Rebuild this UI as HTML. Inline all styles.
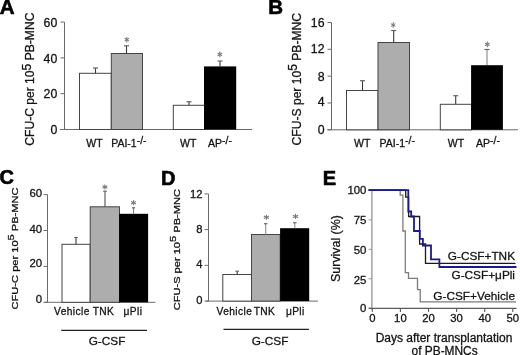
<!DOCTYPE html>
<html><head><meta charset="utf-8"><style>
html,body{margin:0;padding:0;background:#fff;overflow:hidden;width:520px;height:355px;}
svg{display:block;font-family:"Liberation Sans", sans-serif;will-change:transform;filter:blur(0.3px);}
text{stroke:#1a1a1a;stroke-width:0.3px;}
text.b{stroke:#000;stroke-width:0.6px;}
</style></head><body>
<svg width="520" height="355" viewBox="0 0 520 355" font-family='"Liberation Sans", sans-serif'>
<rect width="520" height="355" fill="#fff"/>
<text class="b" x="-0.3" y="14.2" font-size="20.5" text-anchor="start" font-weight="bold" fill="#000" >A</text>
<line x1="64.5" y1="22.1" x2="64.5" y2="129.5" stroke="#6a6a6a" stroke-width="1"/>
<line x1="60.5" y1="22.1" x2="64.5" y2="22.1" stroke="#6a6a6a" stroke-width="1"/>
<text x="57.3" y="26.9" font-size="12.3" text-anchor="end" font-weight="normal" fill="#111" >60</text>
<line x1="60.5" y1="57.9" x2="64.5" y2="57.9" stroke="#6a6a6a" stroke-width="1"/>
<text x="57.3" y="62.7" font-size="12.3" text-anchor="end" font-weight="normal" fill="#111" >40</text>
<line x1="60.5" y1="93.7" x2="64.5" y2="93.7" stroke="#6a6a6a" stroke-width="1"/>
<text x="57.3" y="97.5" font-size="12.3" text-anchor="end" font-weight="normal" fill="#111" >20</text>
<line x1="60.5" y1="129.5" x2="64.5" y2="129.5" stroke="#6a6a6a" stroke-width="1"/>
<text x="57.3" y="134.0" font-size="12.3" text-anchor="end" font-weight="normal" fill="#111" >0</text>
<line x1="60" y1="129.5" x2="252" y2="129.5" stroke="#6a6a6a" stroke-width="1"/>
<rect x="79.5" y="73.3" width="31.799999999999997" height="56.2" fill="#fff" stroke="#444" stroke-width="1"/>
<rect x="111.3" y="53.5" width="31.200000000000003" height="76.0" fill="#adadad" stroke="#444" stroke-width="1"/>
<rect x="173.3" y="105.3" width="31.19999999999999" height="24.200000000000003" fill="#fff" stroke="#444" stroke-width="1"/>
<rect x="204" y="66.4" width="32.19999999999999" height="63.099999999999994" fill="#000" stroke="none" stroke-width="1"/>
<line x1="95.5" y1="73.3" x2="95.5" y2="68" stroke="#3a3a3a" stroke-width="1.1"/>
<line x1="93.0" y1="68" x2="98.0" y2="68" stroke="#666" stroke-width="1.2"/>
<line x1="126.5" y1="53.5" x2="126.5" y2="45.8" stroke="#3a3a3a" stroke-width="1.1"/>
<line x1="124.0" y1="45.8" x2="129.0" y2="45.8" stroke="#666" stroke-width="1.2"/>
<line x1="189" y1="105.3" x2="189" y2="101.7" stroke="#3a3a3a" stroke-width="1.1"/>
<line x1="186.5" y1="101.7" x2="191.5" y2="101.7" stroke="#666" stroke-width="1.2"/>
<line x1="220" y1="66.5" x2="220" y2="61" stroke="#3a3a3a" stroke-width="1.1"/>
<line x1="217.5" y1="61" x2="222.5" y2="61" stroke="#666" stroke-width="1.2"/>
<line x1="126.8" y1="36.9" x2="126.8" y2="42.5" stroke="#7a7a7a" stroke-width="1.1"/>
<line x1="124.6" y1="38.3" x2="129.0" y2="41.1" stroke="#7a7a7a" stroke-width="1.1"/>
<line x1="129.0" y1="38.3" x2="124.6" y2="41.1" stroke="#7a7a7a" stroke-width="1.1"/>
<line x1="219.8" y1="51.6" x2="219.8" y2="57.2" stroke="#7a7a7a" stroke-width="1.1"/>
<line x1="217.6" y1="53.0" x2="222.0" y2="55.8" stroke="#7a7a7a" stroke-width="1.1"/>
<line x1="222.0" y1="53.0" x2="217.6" y2="55.8" stroke="#7a7a7a" stroke-width="1.1"/>
<text x="86.3" y="146.5" font-size="10.5" text-anchor="start" font-weight="normal" fill="#111" >WT</text>
<text x="111.2" y="146.5" font-size="10.5" text-anchor="start" font-weight="normal" fill="#111" >PAI-1<tspan dy="-3">-/-</tspan></text>
<text x="180" y="146.5" font-size="10.5" text-anchor="start" font-weight="normal" fill="#111" >WT</text>
<text x="208.1" y="146.5" font-size="10.5" text-anchor="start" font-weight="normal" fill="#111" >AP<tspan dy="-3">-/-</tspan></text>
<g transform="translate(34.2,145.7) rotate(-90) scale(1.0,1)"><text x="0" y="0" font-size="12.1" fill="#111" >CFU-C per 10<tspan dy="-3.60">5</tspan><tspan dy="3.60"> PB-MNC</tspan></text></g>
<text class="b" x="268.3" y="14.3" font-size="20.5" text-anchor="start" font-weight="bold" fill="#000" >B</text>
<line x1="331.5" y1="22.48" x2="331.5" y2="129.8" stroke="#6a6a6a" stroke-width="1"/>
<line x1="327.5" y1="22.48" x2="331.5" y2="22.48" stroke="#6a6a6a" stroke-width="1"/>
<text x="324.5" y="27.28" font-size="12.3" text-anchor="end" font-weight="normal" fill="#111" >16</text>
<line x1="327.5" y1="49.31" x2="331.5" y2="49.31" stroke="#6a6a6a" stroke-width="1"/>
<text x="324.5" y="52.71" font-size="12.3" text-anchor="end" font-weight="normal" fill="#111" >12</text>
<line x1="327.5" y1="76.14" x2="331.5" y2="76.14" stroke="#6a6a6a" stroke-width="1"/>
<text x="324.5" y="81.34" font-size="12.3" text-anchor="end" font-weight="normal" fill="#111" >8</text>
<line x1="327.5" y1="102.97" x2="331.5" y2="102.97" stroke="#6a6a6a" stroke-width="1"/>
<text x="324.5" y="106.47" font-size="12.3" text-anchor="end" font-weight="normal" fill="#111" >4</text>
<line x1="327.5" y1="129.8" x2="331.5" y2="129.8" stroke="#6a6a6a" stroke-width="1"/>
<text x="324.5" y="133.6" font-size="12.3" text-anchor="end" font-weight="normal" fill="#111" >0</text>
<line x1="327.4" y1="129.8" x2="518" y2="129.8" stroke="#6a6a6a" stroke-width="1"/>
<rect x="346.5" y="90.5" width="31.5" height="39.30000000000001" fill="#fff" stroke="#444" stroke-width="1"/>
<rect x="378" y="42.5" width="31.5" height="87.30000000000001" fill="#adadad" stroke="#444" stroke-width="1"/>
<rect x="440.3" y="104.3" width="31.19999999999999" height="25.500000000000014" fill="#fff" stroke="#444" stroke-width="1"/>
<rect x="471.1" y="65.2" width="31.799999999999955" height="64.60000000000001" fill="#000" stroke="none" stroke-width="1"/>
<line x1="362.5" y1="90.5" x2="362.5" y2="80.7" stroke="#3a3a3a" stroke-width="1.1"/>
<line x1="360.0" y1="80.7" x2="365.0" y2="80.7" stroke="#666" stroke-width="1.2"/>
<line x1="393.7" y1="42.5" x2="393.7" y2="30.5" stroke="#3a3a3a" stroke-width="1.1"/>
<line x1="391.2" y1="30.5" x2="396.2" y2="30.5" stroke="#666" stroke-width="1.2"/>
<line x1="455.7" y1="104.3" x2="455.7" y2="95.7" stroke="#3a3a3a" stroke-width="1.1"/>
<line x1="453.2" y1="95.7" x2="458.2" y2="95.7" stroke="#666" stroke-width="1.2"/>
<line x1="487" y1="65" x2="487" y2="49.5" stroke="#888" stroke-width="1.1"/>
<line x1="484.5" y1="49.5" x2="489.5" y2="49.5" stroke="#666" stroke-width="1.2"/>
<line x1="393.2" y1="22.2" x2="393.2" y2="27.8" stroke="#7a7a7a" stroke-width="1.1"/>
<line x1="391.0" y1="23.6" x2="395.4" y2="26.4" stroke="#7a7a7a" stroke-width="1.1"/>
<line x1="395.4" y1="23.6" x2="391.0" y2="26.4" stroke="#7a7a7a" stroke-width="1.1"/>
<line x1="487.3" y1="41.6" x2="487.3" y2="47.2" stroke="#7a7a7a" stroke-width="1.1"/>
<line x1="485.1" y1="43.0" x2="489.5" y2="45.8" stroke="#7a7a7a" stroke-width="1.1"/>
<line x1="489.5" y1="43.0" x2="485.1" y2="45.8" stroke="#7a7a7a" stroke-width="1.1"/>
<text x="354" y="146.8" font-size="10.5" text-anchor="start" font-weight="normal" fill="#111" >WT</text>
<text x="379.5" y="146.8" font-size="10.5" text-anchor="start" font-weight="normal" fill="#111" >PAI-1<tspan dy="-3">-/-</tspan></text>
<text x="447.8" y="146.8" font-size="10.5" text-anchor="start" font-weight="normal" fill="#111" >WT</text>
<text x="476" y="146.8" font-size="10.5" text-anchor="start" font-weight="normal" fill="#111" >AP<tspan dy="-3">-/-</tspan></text>
<g transform="translate(300.6,145.4) rotate(-90) scale(1.0,1)"><text x="0" y="0" font-size="12.1" fill="#111" >CFU-S per 10<tspan dy="-3.60">5</tspan><tspan dy="3.60"> PB-MNC</tspan></text></g>
<text class="b" x="-0.6" y="184.3" font-size="20" text-anchor="start" font-weight="bold" fill="#000" >C</text>
<line x1="47.5" y1="194.6" x2="47.5" y2="302.3" stroke="#6a6a6a" stroke-width="1"/>
<line x1="43.5" y1="194.6" x2="47.5" y2="194.6" stroke="#6a6a6a" stroke-width="1"/>
<text x="42.2" y="197.05" font-size="11.4" text-anchor="end" font-weight="normal" fill="#111" >60</text>
<line x1="43.5" y1="230.5" x2="47.5" y2="230.5" stroke="#6a6a6a" stroke-width="1"/>
<text x="42.2" y="232.95" font-size="11.4" text-anchor="end" font-weight="normal" fill="#111" >40</text>
<line x1="43.5" y1="266.4" x2="47.5" y2="266.4" stroke="#6a6a6a" stroke-width="1"/>
<text x="42.2" y="267.25" font-size="11.4" text-anchor="end" font-weight="normal" fill="#111" >20</text>
<line x1="43.5" y1="302.3" x2="47.5" y2="302.3" stroke="#6a6a6a" stroke-width="1"/>
<text x="42.2" y="303.45" font-size="11.4" text-anchor="end" font-weight="normal" fill="#111" >0</text>
<line x1="45" y1="302.3" x2="155.3" y2="302.3" stroke="#6a6a6a" stroke-width="1"/>
<rect x="62" y="244.3" width="28.200000000000003" height="58.0" fill="#fff" stroke="#444" stroke-width="1"/>
<rect x="90.2" y="206.8" width="29.299999999999997" height="95.5" fill="#adadad" stroke="#444" stroke-width="1"/>
<rect x="119.1" y="213.8" width="29.0" height="88.5" fill="#000" stroke="none" stroke-width="1"/>
<line x1="76" y1="244.3" x2="76" y2="237.5" stroke="#3a3a3a" stroke-width="1.1"/>
<line x1="74.2" y1="237.5" x2="77.8" y2="237.5" stroke="#666" stroke-width="1.2"/>
<line x1="105" y1="206.8" x2="105" y2="191.2" stroke="#505050" stroke-width="1.1"/>
<line x1="103.2" y1="191.2" x2="106.8" y2="191.2" stroke="#666" stroke-width="1.2"/>
<line x1="133.5" y1="214" x2="133.5" y2="207.8" stroke="#808080" stroke-width="1.1"/>
<line x1="131.9" y1="207.8" x2="135.1" y2="207.8" stroke="#666" stroke-width="1.2"/>
<line x1="104.9" y1="184.4" x2="104.9" y2="189.4" stroke="#7a7a7a" stroke-width="1.1"/>
<line x1="102.5" y1="185.65" x2="107.3" y2="188.15" stroke="#7a7a7a" stroke-width="1.1"/>
<line x1="107.3" y1="185.65" x2="102.5" y2="188.15" stroke="#7a7a7a" stroke-width="1.1"/>
<line x1="133.5" y1="200.2" x2="133.5" y2="205.2" stroke="#7a7a7a" stroke-width="1.1"/>
<line x1="131.1" y1="201.45" x2="135.9" y2="203.95" stroke="#7a7a7a" stroke-width="1.1"/>
<line x1="135.9" y1="201.45" x2="131.1" y2="203.95" stroke="#7a7a7a" stroke-width="1.1"/>
<text x="54.1" y="315.3" font-size="10.2" text-anchor="start" font-weight="normal" fill="#111" letter-spacing="0.4">Vehicle</text>
<text x="92.7" y="315.3" font-size="10.2" text-anchor="start" font-weight="normal" fill="#111" letter-spacing="0.4">TNK</text>
<text x="123.6" y="315.3" font-size="10.2" text-anchor="start" font-weight="normal" fill="#111" letter-spacing="0.4">μPli</text>
<line x1="61.2" y1="330.4" x2="147" y2="330.4" stroke="#222" stroke-width="1.2"/>
<text x="107" y="345.2" font-size="11.8" text-anchor="middle" font-weight="normal" fill="#111" >G-CSF</text>
<g transform="translate(18.2,309.4) rotate(-90) scale(1.26,1)"><text x="0" y="0" font-size="8.8" fill="#111" >CFU-C per 10<tspan dy="-4.20">5</tspan><tspan dy="4.20"> PB-MNC</tspan></text></g>
<text class="b" x="161.1" y="184.5" font-size="20" text-anchor="start" font-weight="bold" fill="#000" >D</text>
<line x1="208.5" y1="193.91" x2="208.5" y2="301.1" stroke="#6a6a6a" stroke-width="1"/>
<line x1="204.5" y1="193.91" x2="208.5" y2="193.91" stroke="#6a6a6a" stroke-width="1"/>
<text x="202.4" y="198.08" font-size="11.2" text-anchor="end" font-weight="normal" fill="#111" >12</text>
<line x1="204.5" y1="229.64" x2="208.5" y2="229.64" stroke="#6a6a6a" stroke-width="1"/>
<text x="202.4" y="233.01" font-size="11.2" text-anchor="end" font-weight="normal" fill="#111" >8</text>
<line x1="204.5" y1="265.37" x2="208.5" y2="265.37" stroke="#6a6a6a" stroke-width="1"/>
<text x="202.4" y="267.74" font-size="11.2" text-anchor="end" font-weight="normal" fill="#111" >4</text>
<line x1="204.5" y1="301.1" x2="208.5" y2="301.1" stroke="#6a6a6a" stroke-width="1"/>
<text x="202.4" y="304.17" font-size="11.2" text-anchor="end" font-weight="normal" fill="#111" >0</text>
<line x1="206" y1="301.1" x2="318" y2="301.1" stroke="#6a6a6a" stroke-width="1"/>
<rect x="222.8" y="274.5" width="28.69999999999999" height="26.600000000000023" fill="#fff" stroke="#444" stroke-width="1"/>
<rect x="251.5" y="234.5" width="28.69999999999999" height="66.60000000000002" fill="#adadad" stroke="#444" stroke-width="1"/>
<rect x="280.1" y="228.2" width="29.099999999999966" height="72.90000000000003" fill="#000" stroke="none" stroke-width="1"/>
<line x1="237.2" y1="274.5" x2="237.2" y2="271.2" stroke="#3a3a3a" stroke-width="1.1"/>
<line x1="235.39999999999998" y1="271.2" x2="239.0" y2="271.2" stroke="#666" stroke-width="1.2"/>
<line x1="265.7" y1="234.5" x2="265.7" y2="223.7" stroke="#909090" stroke-width="1.1"/>
<line x1="264.0" y1="223.7" x2="267.4" y2="223.7" stroke="#666" stroke-width="1.2"/>
<line x1="294.8" y1="228.3" x2="294.8" y2="222.8" stroke="#909090" stroke-width="1.1"/>
<line x1="293.1" y1="222.8" x2="296.5" y2="222.8" stroke="#666" stroke-width="1.2"/>
<line x1="266.4" y1="214.7" x2="266.4" y2="219.7" stroke="#7a7a7a" stroke-width="1.1"/>
<line x1="263.8" y1="215.95" x2="269.0" y2="218.45" stroke="#7a7a7a" stroke-width="1.1"/>
<line x1="269.0" y1="215.95" x2="263.8" y2="218.45" stroke="#7a7a7a" stroke-width="1.1"/>
<line x1="295.5" y1="213.9" x2="295.5" y2="218.9" stroke="#7a7a7a" stroke-width="1.1"/>
<line x1="292.9" y1="215.15" x2="298.1" y2="217.65" stroke="#7a7a7a" stroke-width="1.1"/>
<line x1="298.1" y1="215.15" x2="292.9" y2="217.65" stroke="#7a7a7a" stroke-width="1.1"/>
<text x="216.6" y="314.7" font-size="10.2" text-anchor="start" font-weight="normal" fill="#111" letter-spacing="0.4">Vehicle</text>
<text x="253.7" y="314.7" font-size="10.2" text-anchor="start" font-weight="normal" fill="#111" letter-spacing="0.4">TNK</text>
<text x="285.9" y="314.7" font-size="10.2" text-anchor="start" font-weight="normal" fill="#111" letter-spacing="0.4">μPli</text>
<line x1="223.5" y1="329.4" x2="308.9" y2="329.4" stroke="#222" stroke-width="1.2"/>
<text x="270" y="345.2" font-size="11.8" text-anchor="middle" font-weight="normal" fill="#111" >G-CSF</text>
<g transform="translate(180.2,310.3) rotate(-90) scale(1.26,1)"><text x="0" y="0" font-size="8.8" fill="#111" >CFU-S per 10<tspan dy="-4.20">5</tspan><tspan dy="4.20"> PB-MNC</tspan></text></g>
<text class="b" x="322.7" y="184.5" font-size="20" text-anchor="start" font-weight="bold" fill="#000" >E</text>
<line x1="371.9" y1="190.4" x2="371.9" y2="309.5" stroke="#9a9a9a" stroke-width="1.4"/>
<line x1="368.5" y1="190.4" x2="372" y2="190.4" stroke="#9a9a9a" stroke-width="1"/>
<text x="366.4" y="193.9" font-size="11.4" text-anchor="end" font-weight="normal" fill="#111" >100</text>
<line x1="368.5" y1="219.85" x2="372" y2="219.85" stroke="#9a9a9a" stroke-width="1"/>
<text x="366.4" y="223.65" font-size="11.4" text-anchor="end" font-weight="normal" fill="#111" >75</text>
<line x1="368.5" y1="249.3" x2="372" y2="249.3" stroke="#9a9a9a" stroke-width="1"/>
<text x="366.4" y="253.7" font-size="11.4" text-anchor="end" font-weight="normal" fill="#111" >50</text>
<line x1="368.5" y1="278.75" x2="372" y2="278.75" stroke="#9a9a9a" stroke-width="1"/>
<text x="366.4" y="283.55" font-size="11.4" text-anchor="end" font-weight="normal" fill="#111" >25</text>
<line x1="368.5" y1="308.2" x2="372" y2="308.2" stroke="#9a9a9a" stroke-width="1"/>
<text x="366.4" y="311.7" font-size="11.4" text-anchor="end" font-weight="normal" fill="#111" >0</text>
<line x1="368.7" y1="308.4" x2="516.5" y2="308.4" stroke="#5a5a5a" stroke-width="1.1"/>
<line x1="372.3" y1="308.4" x2="372.3" y2="311.9" stroke="#5a5a5a" stroke-width="1.1"/>
<text x="372.3" y="322.2" font-size="11.3" text-anchor="middle" font-weight="normal" fill="#111" >0</text>
<line x1="400.4" y1="308.4" x2="400.4" y2="311.9" stroke="#5a5a5a" stroke-width="1.1"/>
<text x="400.4" y="322.2" font-size="11.3" text-anchor="middle" font-weight="normal" fill="#111" >10</text>
<line x1="428.5" y1="308.4" x2="428.5" y2="311.9" stroke="#5a5a5a" stroke-width="1.1"/>
<text x="428.5" y="322.2" font-size="11.3" text-anchor="middle" font-weight="normal" fill="#111" >20</text>
<line x1="456.6" y1="308.4" x2="456.6" y2="311.9" stroke="#5a5a5a" stroke-width="1.1"/>
<text x="456.6" y="322.2" font-size="11.3" text-anchor="middle" font-weight="normal" fill="#111" >30</text>
<line x1="484.7" y1="308.4" x2="484.7" y2="311.9" stroke="#5a5a5a" stroke-width="1.1"/>
<text x="484.7" y="322.2" font-size="11.3" text-anchor="middle" font-weight="normal" fill="#111" >40</text>
<line x1="512.8" y1="308.4" x2="512.8" y2="311.9" stroke="#5a5a5a" stroke-width="1.1"/>
<text x="512.8" y="322.2" font-size="11.3" text-anchor="middle" font-weight="normal" fill="#111" >50</text>
<path d="M368.6,190.2 H400.2 V195.2 H402.9 V231 H405.3 V272.7 H408.5 V278.3 H417.5 V289.6 H420.2 V301.9 H516" fill="none" stroke="#7c7c7c" stroke-width="1.3"/>
<path d="M368.6,190.2 H405.7 V197.1 H408.6 V216.5 H419.6 V244 H425.5 V263.4 H515.5" fill="none" stroke="#1a1a1a" stroke-width="1.3"/>
<path d="M368.6,190.2 H408.3 V211.5 H411.2 V216.5 H414 V231 H419.8 V238.8 H422.9 V245.5 H431 V259.4 H439.4 V267 H516.5" fill="none" stroke="#1a1a8a" stroke-width="1.8"/>
<text x="515" y="260.3" font-size="11.8" text-anchor="end" font-weight="normal" fill="#111" >G-CSF+TNK</text>
<text x="515" y="279.2" font-size="11.8" text-anchor="end" font-weight="normal" fill="#111" >G-CSF+μPli</text>
<text x="515" y="299.5" font-size="11.8" text-anchor="end" font-weight="normal" fill="#111" >G-CSF+Vehicle</text>
<g transform="translate(340.4,281.9) rotate(-90)"><text x="0" y="0" font-size="12.4" fill="#111">Survival (%)</text></g>
<text x="444" y="341.7" font-size="12" text-anchor="middle" font-weight="normal" fill="#111" >Days after transplantation</text>
<text x="444.6" y="354.5" font-size="11.9" text-anchor="middle" font-weight="normal" fill="#111" >of PB-MNCs</text>
</svg>
</body></html>
